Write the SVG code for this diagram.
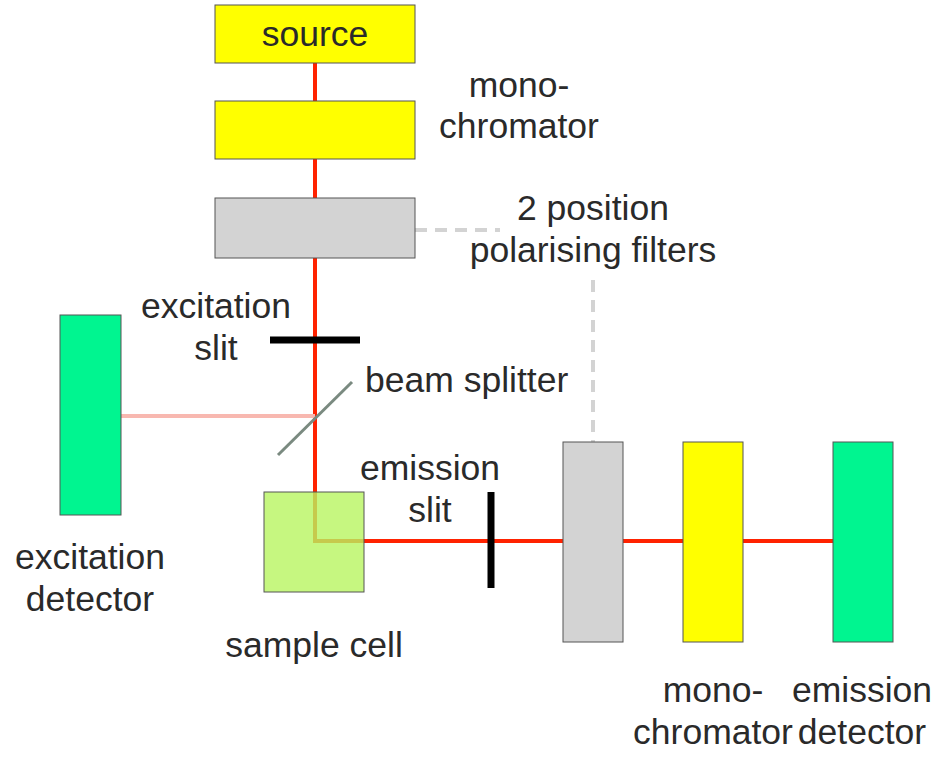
<svg xmlns="http://www.w3.org/2000/svg" width="950" height="762" viewBox="0 0 950 762">
<style>
text{font-family:"Liberation Sans",Arial,sans-serif;font-size:35.5px;fill:#2a2a2a;text-anchor:middle}
.y{fill:#ffff00;stroke:#555;stroke-width:1}
.g{fill:#d3d3d3;stroke:#555;stroke-width:1}
.d{fill:#00f590;stroke:#555;stroke-width:1}
</style>
<rect width="950" height="762" fill="#fff"/>
<g id="connectors">
<path d="M315 63V541H833" fill="none" stroke="#ff2200" stroke-width="4"/>
<line x1="121" y1="416" x2="315" y2="416" stroke="#f8b8b0" stroke-width="4"/>
<path d="M415 230H500M593 280V442" stroke="#d3d3d3" stroke-width="4" stroke-dasharray="12,8" fill="none"/>
</g>
<g id="source"><rect class="y" x="215" y="5" width="200" height="58"/><text x="315" y="46">source</text></g>
<g id="mono1"><rect class="y" x="215" y="101" width="200" height="58"/><text x="519" y="97">mono-</text><text x="519" y="138">chromator</text></g>
<g id="pol1"><rect class="g" x="215" y="198" width="200" height="60"/><text x="593" y="220">2 position</text><text x="593" y="262">polarising filters</text></g>
<g id="exslit"><line x1="270" y1="340" x2="360" y2="340" stroke="#000" stroke-width="7"/><text x="216" y="318">excitation</text><text x="216" y="360">slit</text></g>
<g id="splitter"><line x1="278" y1="455" x2="352" y2="382" stroke="#7a8a80" stroke-width="3"/><text x="365" y="392" style="text-anchor:start">beam splitter</text></g>
<g id="exdet"><rect class="d" x="60" y="315" width="61" height="200"/><text x="90" y="569">excitation</text><text x="90" y="611">detector</text></g>
<g id="sample"><rect x="264" y="492" width="100" height="100" fill="#b8f560" fill-opacity="0.8" stroke="#555"/><text x="314" y="657">sample cell</text></g>
<g id="emslit"><line x1="491" y1="492" x2="491" y2="588" stroke="#000" stroke-width="7"/><text x="430" y="480">emission</text><text x="430" y="522">slit</text></g>
<g id="pol2"><rect class="g" x="563" y="442" width="60" height="200"/></g>
<g id="mono2"><rect class="y" x="683" y="442" width="60" height="200"/><text x="713" y="702">mono-</text><text x="713" y="744">chromator</text></g>
<g id="emdet"><rect class="d" x="833" y="442" width="60" height="200"/><text x="862" y="702">emission</text><text x="862" y="744">detector</text></g>
</svg>
